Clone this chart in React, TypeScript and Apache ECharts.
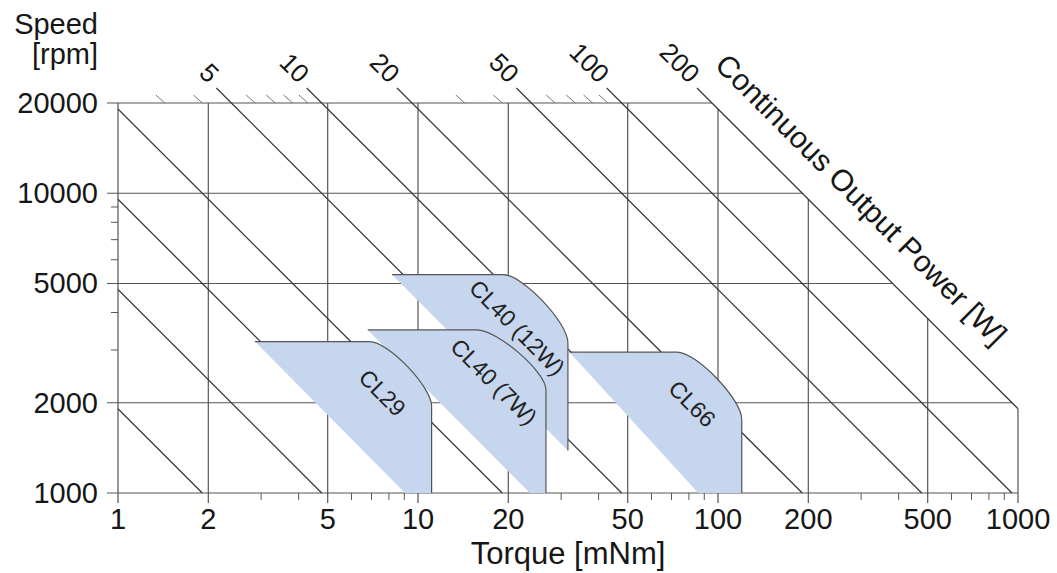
import React, { useEffect, useRef } from 'react';
import * as echarts from 'echarts';

// ---- axis values ----
const torqueMajor = [1, 2, 5, 10, 20, 50, 100, 200, 500, 1000];
const torqueLabels = ['1', '2', '5', '10', '20', '50', '100', '200', '500', '1000'];
const speedMajor = [1000, 2000, 5000, 10000, 20000];
const speedLabels = ['1000', '2000', '5000', '10000', '20000'];
const torqueMinor = [3, 4, 6, 7, 8, 9, 30, 40, 60, 70, 80, 90, 300, 400, 600, 700, 800, 900];
const speedMinor = [3000, 4000, 6000, 7000, 8000, 9000];

// ---- constant power lines [W] ----
const powerLines = [0.2, 0.5, 1, 2, 5, 10, 20, 50, 100, 200];
const powerLabelValues = [5, 10, 20, 50, 100, 200];
const powerMinor = [3, 4, 6, 7, 8, 9, 30, 40, 60, 70, 80, 90];
const powerLimit = 200;

// ---- motor operating ranges (drawn in this order) ----
const motorNames = ['CL40 (12W)', 'CL40 (7W)', 'CL29', 'CL66'];
const motorTopSpeed = [5350, 3500, 3200, 2950];
const motorLeftTorque = [8.2, 6.8, 2.86, 32];
const motorBendTorque = [19.2, 15.7, 6.9, 73];
const motorRightTorque = [31.6, 26.7, 11.1, 120];
const motorBendSpeed = [3170, 2210, 1950, 1760];
const motorBottomSpeed = [1385, 1000, 1000, 1000];
const motorBottomLeftTorque = [31.6, 23.6, 9.05, 86];
const motorLabelTorque = [21.4, 17.9, 7.6, 82];
const motorLabelSpeed = [3560, 2350, 2160, 1985];

const T_MIN = 1;
const T_MAX = 1000;
const N_MIN = 1000;
const N_MAX = 20000;
const K = (p: number) => (p * 60000) / (2 * Math.PI); // torque[mNm] * speed[rpm]

const FONT = "'Liberation Sans', Arial, Helvetica, sans-serif";
const GRID = '#555555';
const LINE = '#3a3a3a';
const TEXT = '#161616';
const FILL = '#c6d6ee';

function buildOption(): any {
  const vGrid = {
    type: 'custom', clip: false, z: 1, silent: true,
    data: torqueMajor.map((t) => [t, N_MIN]),
    renderItem: (params: any, api: any) => {
      const t = api.value(0);
      const nTop = Math.min(N_MAX, K(powerLimit) / t);
      const a = api.coord([t, N_MIN]);
      const b = api.coord([t, nTop]);
      return { type: 'line', shape: { x1: a[0], y1: a[1] + 10, x2: b[0], y2: b[1] }, style: { stroke: GRID, lineWidth: 1.2 } };
    },
  };
  const hGrid = {
    type: 'custom', clip: false, z: 1, silent: true,
    data: speedMajor.map((n) => [T_MIN, n]),
    renderItem: (params: any, api: any) => {
      const n = api.value(1);
      const tEnd = Math.min(T_MAX, K(powerLimit) / n);
      const a = api.coord([T_MIN, n]);
      const b = api.coord([tEnd, n]);
      return { type: 'line', shape: { x1: a[0] - 11, y1: a[1], x2: b[0], y2: b[1] }, style: { stroke: GRID, lineWidth: 1.2 } };
    },
  };
  const xMinor = {
    type: 'custom', clip: false, z: 1, silent: true,
    data: torqueMinor.map((t) => [t, N_MIN]),
    renderItem: (params: any, api: any) => {
      const a = api.coord([api.value(0), N_MIN]);
      return { type: 'line', shape: { x1: a[0], y1: a[1], x2: a[0], y2: a[1] + 7 }, style: { stroke: GRID, lineWidth: 1 } };
    },
  };
  const yMinor = {
    type: 'custom', clip: false, z: 1, silent: true,
    data: speedMinor.map((n) => [T_MIN, n]),
    renderItem: (params: any, api: any) => {
      const a = api.coord([T_MIN, api.value(1)]);
      return { type: 'line', shape: { x1: a[0], y1: a[1], x2: a[0] - 7, y2: a[1] }, style: { stroke: GRID, lineWidth: 1 } };
    },
  };
  const pMinor = {
    type: 'custom', clip: false, z: 1, silent: true,
    data: powerMinor.map((p) => [K(p) / N_MAX, N_MAX]),
    renderItem: (params: any, api: any) => {
      const a = api.coord([api.value(0), N_MAX]);
      return { type: 'line', shape: { x1: a[0], y1: a[1], x2: a[0] - 9, y2: a[1] - 8 }, style: { stroke: '#777', lineWidth: 1 } };
    },
  };
  const pLines = {
    type: 'custom', clip: false, z: 2, silent: true,
    data: powerLines.map((p) => [Math.max(T_MIN, K(p) / N_MAX), K(p) / Math.max(T_MIN, K(p) / N_MAX)]),
    renderItem: (params: any, api: any) => {
      const p = powerLines[params.dataIndex];
      const k = K(p);
      const t0 = Math.max(T_MIN, k / N_MAX);
      const t1 = Math.min(T_MAX, k / N_MIN);
      let a = api.coord([t0, k / t0]);
      const b = api.coord([t1, k / t1]);
      if (t0 > T_MIN) a = [a[0] - 15, a[1] - 15];
      return { type: 'line', shape: { x1: a[0], y1: a[1], x2: b[0], y2: b[1] }, style: { stroke: LINE, lineWidth: 1.3 } };
    },
  };
  const pLabels = {
    type: 'custom', clip: false, z: 5, silent: true,
    data: powerLabelValues.map((p) => [K(p) / N_MAX, N_MAX]),
    renderItem: (params: any, api: any) => {
      const p = powerLabelValues[params.dataIndex];
      const a = api.coord([api.value(0), N_MAX]);
      return {
        type: 'text', x: a[0] - 17, y: a[1] - 25, rotation: -Math.PI / 4,
        style: { text: String(p), fill: TEXT, fontSize: 26, fontFamily: FONT, align: 'right', verticalAlign: 'middle' },
      };
    },
  };
  const powerTitle = {
    type: 'custom', clip: false, z: 5, silent: true,
    data: [[246, K(powerLimit) / 246]],
    renderItem: (params: any, api: any) => {
      const a = api.coord([api.value(0), api.value(1)]);
      return {
        type: 'text', x: a[0] + 26, y: a[1] - 27, rotation: -Math.PI / 4,
        style: { text: 'Continuous Output Power [W]', fill: TEXT, fontSize: 30, fontFamily: FONT, align: 'center', verticalAlign: 'middle' },
      };
    },
  };
  const xLabels = {
    type: 'custom', clip: false, z: 5, silent: true,
    data: torqueMajor.map((t) => [t, N_MIN]),
    renderItem: (params: any, api: any) => {
      const a = api.coord([api.value(0), N_MIN]);
      return {
        type: 'text', x: a[0], y: a[1] + 26,
        style: { text: torqueLabels[params.dataIndex], fill: TEXT, fontSize: 29, fontFamily: FONT, align: 'center', verticalAlign: 'middle' },
      };
    },
  };
  const yLabels = {
    type: 'custom', clip: false, z: 5, silent: true,
    data: speedMajor.map((n) => [T_MIN, n]),
    renderItem: (params: any, api: any) => {
      const a = api.coord([T_MIN, api.value(1)]);
      return {
        type: 'text', x: a[0] - 20, y: a[1],
        style: { text: speedLabels[params.dataIndex], fill: TEXT, fontSize: 29, fontFamily: FONT, align: 'right', verticalAlign: 'middle' },
      };
    },
  };
  const axisTitles = {
    type: 'custom', clip: false, z: 5, silent: true,
    data: [[T_MIN, N_MAX]],
    renderItem: (params: any, api: any) => {
      const tl = api.coord([T_MIN, N_MAX]);
      const mid = api.coord([Math.sqrt(T_MIN * T_MAX), N_MIN]);
      return {
        type: 'group',
        children: [
          { type: 'text', x: tl[0] - 20, y: tl[1] - 79, style: { text: 'Speed', fill: TEXT, fontSize: 29, fontFamily: FONT, align: 'right', verticalAlign: 'middle' } },
          { type: 'text', x: tl[0] - 20, y: tl[1] - 49, style: { text: '[rpm]', fill: TEXT, fontSize: 29, fontFamily: FONT, align: 'right', verticalAlign: 'middle' } },
          { type: 'text', x: mid[0], y: mid[1] + 60, style: { text: 'Torque [mNm]', fill: TEXT, fontSize: 31, fontFamily: FONT, align: 'center', verticalAlign: 'middle' } },
        ],
      };
    },
  };
  const motors = {
    type: 'custom', clip: false, z: 3, silent: true,
    data: motorNames.map((_, i) => [motorLeftTorque[i], motorTopSpeed[i]]),
    renderItem: (params: any, api: any) => {
      const i = params.dataIndex;
      const c = (t: number, n: number) => api.coord([t, n]);
      const tl = c(motorLeftTorque[i], motorTopSpeed[i]);
      const bend = c(motorBendTorque[i], motorTopSpeed[i]);
      const corner = c(motorRightTorque[i], motorTopSpeed[i]);
      const ce = c(motorRightTorque[i], motorBendSpeed[i]);
      const br = c(motorRightTorque[i], motorBottomSpeed[i]);
      const bl = c(motorBottomLeftTorque[i], motorBottomSpeed[i]);
      const k = 0.3;
      const c1 = [bend[0] + k * (corner[0] - bend[0]), bend[1]];
      const c2 = [ce[0], ce[1] + k * (corner[1] - ce[1])];
      const f = (p: number[]) => `${p[0].toFixed(2)} ${p[1].toFixed(2)}`;
      const outline = `M${f(tl)} L${f(bend)} C${f(c1)} ${f(c2)} ${f(ce)} L${f(br)}`;
      const fillPath = `${outline} L${f(bl)} Z`;
      const lab = c(motorLabelTorque[i], motorLabelSpeed[i]);
      return {
        type: 'group',
        children: [
          { type: 'path', shape: { pathData: fillPath }, style: { fill: FILL, stroke: 'none' } },
          { type: 'path', shape: { pathData: outline }, style: { fill: 'none', stroke: '#555', lineWidth: 1.2 } },
          {
            type: 'text', x: lab[0], y: lab[1], rotation: -Math.PI / 4,
            style: { text: motorNames[i], fill: '#222', fontSize: 23, fontFamily: FONT, align: 'center', verticalAlign: 'middle' },
          },
        ],
      };
    },
  };

  return {
    animation: false,
    backgroundColor: '#ffffff',
    grid: { left: 118, top: 103, right: 39, bottom: 80, containLabel: false },
    xAxis: { type: 'log', logBase: 10, min: T_MIN, max: T_MAX, show: false },
    yAxis: { type: 'log', logBase: 10, min: N_MIN, max: N_MAX, show: false },
    series: [vGrid, hGrid, xMinor, yMinor, pMinor, pLines, motors, pLabels, powerTitle, xLabels, yLabels, axisTitles],
  };
}

export default function App() {
  const ref = useRef<HTMLDivElement>(null);
  useEffect(() => {
    if (!ref.current) return;
    const chart = echarts.init(ref.current, undefined, { renderer: 'svg' });
    chart.setOption(buildOption());
    return () => chart.dispose();
  }, []);
  return (
    <div
      ref={ref}
      style={{ position: 'fixed', left: 0, top: 0, width: 1057, height: 573, background: '#fff' }}
    />
  );
}
